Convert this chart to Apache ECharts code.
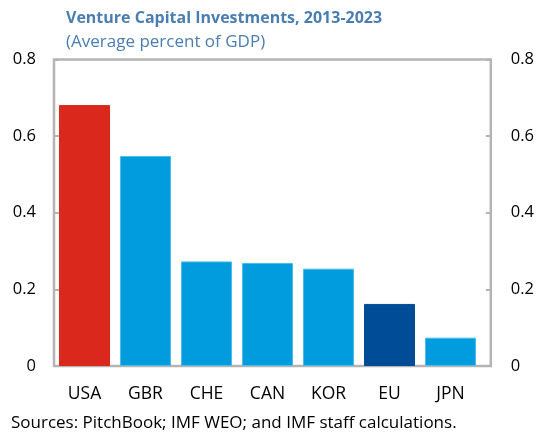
<!DOCTYPE html>
<html><head><meta charset="utf-8">
<script src="https://cdn.jsdelivr.net/npm/echarts@6/dist/echarts.min.js"></script>
<style>html,body{margin:0;padding:0;background:#fff}#c{width:537px;height:434px}</style>
</head><body><div id="c"></div>
<script>
const categories = ['USA','GBR','CHE','CAN','KOR','EU','JPN'];
const values = [0.681, 0.548, 0.273, 0.269, 0.254, 0.162, 0.074];
const barColors = ['#DA291C','#009CDE','#009CDE','#009CDE','#009CDE','#004C97','#009CDE'];
const borderColors = ['#DA291C','#4DBCEB','#4DBCEB','#4DBCEB','#4DBCEB','#004C97','#4DBCEB'];
const yTicks = [0, 0.2, 0.4, 0.6, 0.8];

const FONT = '"Open Sans", "Noto Sans", sans-serif';
const chart = echarts.init(document.getElementById('c'), null, {renderer:'canvas'});
const yMin = yTicks[0], yMax = yTicks[yTicks.length-1], yStep = yTicks[1]-yTicks[0];
const yAxisCommon = {
  type:'value', min:yMin, max:yMax, interval:yStep,
  splitLine:{show:false},
  axisLine:{show:false},
  axisTick:{show:true, inside:true, length:5, lineStyle:{color:'#B4B4B4', width:2}},
  axisLabel:{color:'#000', fontSize:16.5, fontFamily:FONT, formatter:v=>String(+v.toFixed(1))}
};
chart.setOption({
  animation:false,
  title:[
    {text:'Venture Capital Investments, 2013-2023', left:61, top:5,
     textStyle:{color:'#4A7EB2', fontSize:16, fontWeight:'bold', fontFamily:FONT}},
    {text:'(Average percent of GDP)', left:61, top:29,
     textStyle:{color:'#4A7EB2', fontSize:17, fontWeight:'normal', fontFamily:FONT}},
    {text:'Sources: PitchBook; IMF WEO; and IMF staff calculations.', left:6, top:410,
     textStyle:{color:'#000', fontSize:17, fontWeight:'normal', fontFamily:FONT}}
  ],
  grid:[
    {left:54, top:59.5, width:438, height:306.5, show:true, borderColor:'#B4B4B4', borderWidth:2.5, backgroundColor:'transparent'},
    {left:54, top:59.5, width:427, height:306.5}
  ],
  xAxis:[
    {gridIndex:0, type:'category', data:categories, show:false},
    {gridIndex:1, type:'category', data:categories,
     axisLine:{show:false}, axisTick:{show:false},
     axisLabel:{color:'#000', fontSize:17.5, fontFamily:FONT, margin:19}}
  ],
  yAxis:[
    Object.assign({}, yAxisCommon, {gridIndex:0, position:'left', axisLabel:Object.assign({}, yAxisCommon.axisLabel, {margin:18})}),
    Object.assign({}, yAxisCommon, {gridIndex:0, position:'right', axisLabel:Object.assign({}, yAxisCommon.axisLabel, {margin:20})}),
    {gridIndex:1, type:'value', min:yMin, max:yMax, show:false}
  ],
  series:[{
    type:'bar', xAxisIndex:1, yAxisIndex:2, barWidth:51,
    data: values.map((v,i)=>({value:v, itemStyle:{color:barColors[i], borderColor:borderColors[i], borderWidth:1}}))
  }]
});
</script></body></html>
